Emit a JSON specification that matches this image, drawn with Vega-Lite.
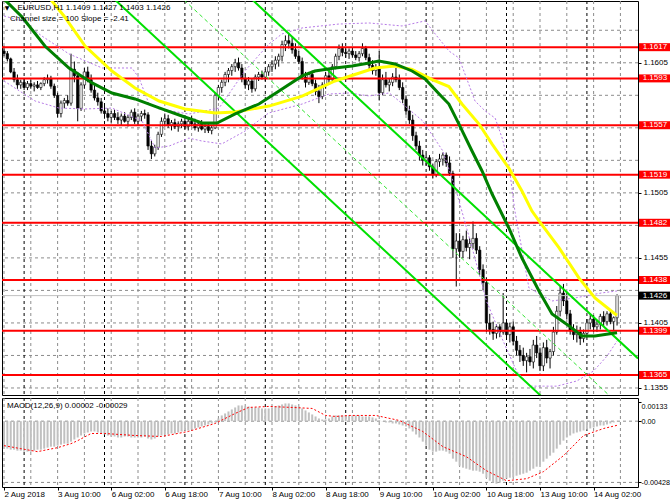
{
"$schema": "https://vega.github.io/schema/vega-lite/v6.json",
"padding": 0,
"background": "#ffffff",
"spacing": 1,
"config": {"view": {"stroke": "#000000", "strokeWidth": 1}, "scale": {"continuousPadding": 0}, "axis": {"labelFont": "Liberation Sans", "labelFontSize": 8, "labelColor": "#000000", "tickColor": "#000000"}, "text": {"font": "Liberation Sans", "fontSize": 8}},
"datasets": {
"candles": [
{"i":0,"o":1.1614,"h":1.1618,"l":1.1610,"c":1.1612,"m":-0.00192},
{"i":1,"o":1.1612,"h":1.1614,"l":1.1606,"c":1.1608,"m":-0.00192},
{"i":2,"o":1.1608,"h":1.1609,"l":1.1597,"c":1.1598,"m":-0.00199},
{"i":3,"o":1.1598,"h":1.1601,"l":1.1590,"c":1.1592,"m":-0.00199},
{"i":4,"o":1.1592,"h":1.1596,"l":1.1585,"c":1.1588,"m":-0.00206},
{"i":5,"o":1.1588,"h":1.1592,"l":1.1585,"c":1.1590,"m":-0.00206},
{"i":6,"o":1.1590,"h":1.1593,"l":1.1584,"c":1.1586,"m":-0.00213},
{"i":7,"o":1.1586,"h":1.1591,"l":1.1584,"c":1.1589,"m":-0.00213},
{"i":8,"o":1.1589,"h":1.1592,"l":1.1585,"c":1.1587,"m":-0.00213},
{"i":9,"o":1.1587,"h":1.1590,"l":1.1583,"c":1.1588,"m":-0.00206},
{"i":10,"o":1.1588,"h":1.1591,"l":1.1585,"c":1.1586,"m":-0.00199},
{"i":11,"o":1.1586,"h":1.1590,"l":1.1584,"c":1.1589,"m":-0.00199},
{"i":12,"o":1.1589,"h":1.1594,"l":1.1587,"c":1.1592,"m":-0.00192},
{"i":13,"o":1.1592,"h":1.1596,"l":1.1589,"c":1.1593,"m":-0.00185},
{"i":14,"o":1.1593,"h":1.1595,"l":1.1585,"c":1.1587,"m":-0.00178},
{"i":15,"o":1.1587,"h":1.1589,"l":1.1578,"c":1.1580,"m":-0.00178},
{"i":16,"o":1.1580,"h":1.1582,"l":1.1563,"c":1.1566,"m":-0.00171},
{"i":17,"o":1.1566,"h":1.1576,"l":1.1563,"c":1.1574,"m":-0.00164},
{"i":18,"o":1.1574,"h":1.1578,"l":1.1570,"c":1.1576,"m":-0.00157},
{"i":19,"o":1.1576,"h":1.1580,"l":1.1572,"c":1.1574,"m":-0.00157},
{"i":20,"o":1.1574,"h":1.1612,"l":1.1572,"c":1.1600,"m":-0.00143},
{"i":21,"o":1.1600,"h":1.1606,"l":1.1590,"c":1.1595,"m":-0.00128},
{"i":22,"o":1.1595,"h":1.1598,"l":1.1560,"c":1.1570,"m":-0.00114},
{"i":23,"o":1.1570,"h":1.1590,"l":1.1568,"c":1.1588,"m":-0.00100},
{"i":24,"o":1.1588,"h":1.1601,"l":1.1585,"c":1.1598,"m":-0.00086},
{"i":25,"o":1.1598,"h":1.1602,"l":1.1590,"c":1.1592,"m":-0.00079},
{"i":26,"o":1.1592,"h":1.1596,"l":1.1582,"c":1.1584,"m":-0.00072},
{"i":27,"o":1.1584,"h":1.1588,"l":1.1576,"c":1.1578,"m":-0.00072},
{"i":28,"o":1.1578,"h":1.1582,"l":1.1572,"c":1.1575,"m":-0.00079},
{"i":29,"o":1.1575,"h":1.1578,"l":1.1566,"c":1.1568,"m":-0.00086},
{"i":30,"o":1.1568,"h":1.1572,"l":1.1562,"c":1.1566,"m":-0.00093},
{"i":31,"o":1.1566,"h":1.1570,"l":1.1560,"c":1.1563,"m":-0.00100},
{"i":32,"o":1.1563,"h":1.1568,"l":1.1559,"c":1.1566,"m":-0.00107},
{"i":33,"o":1.1566,"h":1.1569,"l":1.1561,"c":1.1563,"m":-0.00107},
{"i":34,"o":1.1563,"h":1.1567,"l":1.1558,"c":1.1561,"m":-0.00114},
{"i":35,"o":1.1561,"h":1.1566,"l":1.1557,"c":1.1564,"m":-0.00114},
{"i":36,"o":1.1564,"h":1.1567,"l":1.1559,"c":1.1560,"m":-0.00107},
{"i":37,"o":1.1560,"h":1.1565,"l":1.1556,"c":1.1563,"m":-0.00107},
{"i":38,"o":1.1563,"h":1.1569,"l":1.1561,"c":1.1567,"m":-0.00114},
{"i":39,"o":1.1567,"h":1.1570,"l":1.1558,"c":1.1560,"m":-0.00114},
{"i":40,"o":1.1560,"h":1.1566,"l":1.1557,"c":1.1564,"m":-0.00114},
{"i":41,"o":1.1564,"h":1.1568,"l":1.1560,"c":1.1566,"m":-0.00114},
{"i":42,"o":1.1566,"h":1.1569,"l":1.1562,"c":1.1565,"m":-0.00107},
{"i":43,"o":1.1565,"h":1.1567,"l":1.1538,"c":1.1541,"m":-0.00121},
{"i":44,"o":1.1541,"h":1.1545,"l":1.1531,"c":1.1535,"m":-0.00128},
{"i":45,"o":1.1535,"h":1.1542,"l":1.1533,"c":1.1540,"m":-0.00121},
{"i":46,"o":1.1540,"h":1.1552,"l":1.1538,"c":1.1550,"m":-0.00107},
{"i":47,"o":1.1550,"h":1.1563,"l":1.1548,"c":1.1560,"m":-0.00100},
{"i":48,"o":1.1560,"h":1.1566,"l":1.1556,"c":1.1562,"m":-0.00093},
{"i":49,"o":1.1562,"h":1.1565,"l":1.1555,"c":1.1557,"m":-0.00093},
{"i":50,"o":1.1557,"h":1.1561,"l":1.1553,"c":1.1559,"m":-0.00086},
{"i":51,"o":1.1559,"h":1.1562,"l":1.1554,"c":1.1556,"m":-0.00086},
{"i":52,"o":1.1556,"h":1.1560,"l":1.1552,"c":1.1558,"m":-0.00079},
{"i":53,"o":1.1558,"h":1.1562,"l":1.1555,"c":1.1560,"m":-0.00072},
{"i":54,"o":1.1560,"h":1.1563,"l":1.1554,"c":1.1556,"m":-0.00065},
{"i":55,"o":1.1556,"h":1.1562,"l":1.1553,"c":1.1560,"m":-0.00065},
{"i":56,"o":1.1560,"h":1.1564,"l":1.1556,"c":1.1558,"m":-0.00058},
{"i":57,"o":1.1558,"h":1.1562,"l":1.1553,"c":1.1555,"m":-0.00051},
{"i":58,"o":1.1555,"h":1.1560,"l":1.1552,"c":1.1558,"m":-0.00044},
{"i":59,"o":1.1558,"h":1.1561,"l":1.1553,"c":1.1554,"m":-0.00037},
{"i":60,"o":1.1554,"h":1.1558,"l":1.1551,"c":1.1556,"m":-0.00030},
{"i":61,"o":1.1556,"h":1.1559,"l":1.1551,"c":1.1553,"m":-0.00023},
{"i":62,"o":1.1553,"h":1.1557,"l":1.1550,"c":1.1555,"m":-0.00016},
{"i":63,"o":1.1555,"h":1.1582,"l":1.1554,"c":1.1580,"m":-0.00009},
{"i":64,"o":1.1580,"h":1.1588,"l":1.1576,"c":1.1586,"m":0.00019},
{"i":65,"o":1.1586,"h":1.1592,"l":1.1582,"c":1.1590,"m":0.00040},
{"i":66,"o":1.1590,"h":1.1598,"l":1.1587,"c":1.1596,"m":0.00054},
{"i":67,"o":1.1596,"h":1.1601,"l":1.1590,"c":1.1599,"m":0.00068},
{"i":68,"o":1.1599,"h":1.1604,"l":1.1595,"c":1.1602,"m":0.00082},
{"i":69,"o":1.1602,"h":1.1608,"l":1.1598,"c":1.1605,"m":0.00096},
{"i":70,"o":1.1605,"h":1.1609,"l":1.1599,"c":1.1601,"m":0.00110},
{"i":71,"o":1.1601,"h":1.1604,"l":1.1590,"c":1.1593,"m":0.00110},
{"i":72,"o":1.1593,"h":1.1597,"l":1.1585,"c":1.1588,"m":0.00103},
{"i":73,"o":1.1588,"h":1.1594,"l":1.1584,"c":1.1591,"m":0.00103},
{"i":74,"o":1.1591,"h":1.1593,"l":1.1582,"c":1.1585,"m":0.00096},
{"i":75,"o":1.1585,"h":1.1596,"l":1.1583,"c":1.1594,"m":0.00096},
{"i":76,"o":1.1594,"h":1.1598,"l":1.1591,"c":1.1596,"m":0.00096},
{"i":77,"o":1.1596,"h":1.1599,"l":1.1592,"c":1.1594,"m":0.00089},
{"i":78,"o":1.1594,"h":1.1600,"l":1.1591,"c":1.1598,"m":0.00089},
{"i":79,"o":1.1598,"h":1.1604,"l":1.1595,"c":1.1602,"m":0.00089},
{"i":80,"o":1.1602,"h":1.1607,"l":1.1598,"c":1.1604,"m":0.00096},
{"i":81,"o":1.1604,"h":1.1610,"l":1.1600,"c":1.1607,"m":0.00103},
{"i":82,"o":1.1607,"h":1.1612,"l":1.1602,"c":1.1610,"m":0.00110},
{"i":83,"o":1.1610,"h":1.1622,"l":1.1606,"c":1.1619,"m":0.00117},
{"i":84,"o":1.1619,"h":1.1626,"l":1.1614,"c":1.1622,"m":0.00124},
{"i":85,"o":1.1622,"h":1.1628,"l":1.1616,"c":1.1620,"m":0.00124},
{"i":86,"o":1.1620,"h":1.1625,"l":1.1612,"c":1.1615,"m":0.00117},
{"i":87,"o":1.1615,"h":1.1620,"l":1.1608,"c":1.1610,"m":0.00110},
{"i":88,"o":1.1610,"h":1.1614,"l":1.1604,"c":1.1606,"m":0.00103},
{"i":89,"o":1.1606,"h":1.1609,"l":1.1592,"c":1.1594,"m":0.00089},
{"i":90,"o":1.1594,"h":1.1598,"l":1.1586,"c":1.1590,"m":0.00075},
{"i":91,"o":1.1590,"h":1.1598,"l":1.1588,"c":1.1596,"m":0.00061},
{"i":92,"o":1.1596,"h":1.1599,"l":1.1587,"c":1.1589,"m":0.00047},
{"i":93,"o":1.1589,"h":1.1592,"l":1.1580,"c":1.1583,"m":0.00033},
{"i":94,"o":1.1583,"h":1.1588,"l":1.1574,"c":1.1579,"m":0.00019},
{"i":95,"o":1.1579,"h":1.1590,"l":1.1577,"c":1.1588,"m":0.00012},
{"i":96,"o":1.1588,"h":1.1598,"l":1.1585,"c":1.1595,"m":0.00012},
{"i":97,"o":1.1595,"h":1.1600,"l":1.1588,"c":1.1592,"m":0.00019},
{"i":98,"o":1.1592,"h":1.1604,"l":1.1590,"c":1.1602,"m":0.00033},
{"i":99,"o":1.1602,"h":1.1612,"l":1.1600,"c":1.1610,"m":0.00040},
{"i":100,"o":1.1610,"h":1.1619,"l":1.1607,"c":1.1616,"m":0.00040},
{"i":101,"o":1.1616,"h":1.1620,"l":1.1610,"c":1.1613,"m":0.00040},
{"i":102,"o":1.1613,"h":1.1617,"l":1.1609,"c":1.1612,"m":0.00040},
{"i":103,"o":1.1612,"h":1.1616,"l":1.1608,"c":1.1614,"m":0.00040},
{"i":104,"o":1.1614,"h":1.1617,"l":1.1609,"c":1.1611,"m":0.00040},
{"i":105,"o":1.1611,"h":1.1614,"l":1.1607,"c":1.1609,"m":0.00040},
{"i":106,"o":1.1609,"h":1.1614,"l":1.1606,"c":1.1612,"m":0.00040},
{"i":107,"o":1.1612,"h":1.1620,"l":1.1610,"c":1.1616,"m":0.00033},
{"i":108,"o":1.1616,"h":1.1618,"l":1.1607,"c":1.1609,"m":0.00033},
{"i":109,"o":1.1609,"h":1.1612,"l":1.1600,"c":1.1603,"m":0.00033},
{"i":110,"o":1.1603,"h":1.1607,"l":1.1596,"c":1.1599,"m":0.00026},
{"i":111,"o":1.1599,"h":1.1604,"l":1.1595,"c":1.1601,"m":0.00019},
{"i":112,"o":1.1601,"h":1.1614,"l":1.1576,"c":1.1582,"m":0.00005},
{"i":113,"o":1.1582,"h":1.1596,"l":1.1580,"c":1.1592,"m":-0.00002},
{"i":114,"o":1.1592,"h":1.1598,"l":1.1586,"c":1.1588,"m":-0.00009},
{"i":115,"o":1.1588,"h":1.1593,"l":1.1583,"c":1.1590,"m":-0.00009},
{"i":116,"o":1.1590,"h":1.1597,"l":1.1587,"c":1.1594,"m":-0.00016},
{"i":117,"o":1.1594,"h":1.1601,"l":1.1590,"c":1.1592,"m":-0.00016},
{"i":118,"o":1.1592,"h":1.1596,"l":1.1584,"c":1.1586,"m":-0.00023},
{"i":119,"o":1.1586,"h":1.1590,"l":1.1574,"c":1.1577,"m":-0.00030},
{"i":120,"o":1.1577,"h":1.1580,"l":1.1565,"c":1.1568,"m":-0.00037},
{"i":121,"o":1.1568,"h":1.1572,"l":1.1558,"c":1.1561,"m":-0.00051},
{"i":122,"o":1.1561,"h":1.1565,"l":1.1545,"c":1.1549,"m":-0.00072},
{"i":123,"o":1.1549,"h":1.1552,"l":1.1538,"c":1.1541,"m":-0.00093},
{"i":124,"o":1.1541,"h":1.1545,"l":1.1530,"c":1.1534,"m":-0.00114},
{"i":125,"o":1.1534,"h":1.1538,"l":1.1526,"c":1.1530,"m":-0.00143},
{"i":126,"o":1.1530,"h":1.1535,"l":1.1526,"c":1.1532,"m":-0.00171},
{"i":127,"o":1.1532,"h":1.1534,"l":1.1522,"c":1.1525,"m":-0.00199},
{"i":128,"o":1.1525,"h":1.1527,"l":1.1516,"c":1.1519,"m":-0.00213},
{"i":129,"o":1.1519,"h":1.1531,"l":1.1517,"c":1.1529,"m":-0.00213},
{"i":130,"o":1.1529,"h":1.1535,"l":1.1525,"c":1.1531,"m":-0.00206},
{"i":131,"o":1.1531,"h":1.1536,"l":1.1526,"c":1.1534,"m":-0.00206},
{"i":132,"o":1.1534,"h":1.1536,"l":1.1525,"c":1.1528,"m":-0.00213},
{"i":133,"o":1.1528,"h":1.1533,"l":1.1518,"c":1.1520,"m":-0.00227},
{"i":134,"o":1.1520,"h":1.1522,"l":1.1455,"c":1.1462,"m":-0.00262},
{"i":135,"o":1.1462,"h":1.1474,"l":1.1433,"c":1.1468,"m":-0.00283},
{"i":136,"o":1.1468,"h":1.1474,"l":1.1455,"c":1.1460,"m":-0.00311},
{"i":137,"o":1.1460,"h":1.1472,"l":1.1455,"c":1.1469,"m":-0.00325},
{"i":138,"o":1.1469,"h":1.1476,"l":1.1460,"c":1.1463,"m":-0.00332},
{"i":139,"o":1.1463,"h":1.1470,"l":1.1454,"c":1.1466,"m":-0.00339},
{"i":140,"o":1.1466,"h":1.1483,"l":1.1462,"c":1.1470,"m":-0.00346},
{"i":141,"o":1.1470,"h":1.1474,"l":1.1458,"c":1.1461,"m":-0.00346},
{"i":142,"o":1.1461,"h":1.1464,"l":1.1442,"c":1.1446,"m":-0.00353},
{"i":143,"o":1.1446,"h":1.1450,"l":1.1430,"c":1.1436,"m":-0.00367},
{"i":144,"o":1.1436,"h":1.1440,"l":1.1398,"c":1.1405,"m":-0.00395},
{"i":145,"o":1.1405,"h":1.1412,"l":1.1396,"c":1.1400,"m":-0.00416},
{"i":146,"o":1.1400,"h":1.1406,"l":1.1392,"c":1.1397,"m":-0.00430},
{"i":147,"o":1.1397,"h":1.1404,"l":1.1393,"c":1.1402,"m":-0.00437},
{"i":148,"o":1.1402,"h":1.1404,"l":1.1394,"c":1.1398,"m":-0.00430},
{"i":149,"o":1.1398,"h":1.1428,"l":1.1396,"c":1.1405,"m":-0.00416},
{"i":150,"o":1.1405,"h":1.1408,"l":1.1392,"c":1.1396,"m":-0.00402},
{"i":151,"o":1.1396,"h":1.1405,"l":1.1390,"c":1.1402,"m":-0.00395},
{"i":152,"o":1.1402,"h":1.1406,"l":1.1388,"c":1.1391,"m":-0.00388},
{"i":153,"o":1.1391,"h":1.1395,"l":1.1380,"c":1.1384,"m":-0.00381},
{"i":154,"o":1.1384,"h":1.1388,"l":1.1375,"c":1.1380,"m":-0.00374},
{"i":155,"o":1.1380,"h":1.1386,"l":1.1372,"c":1.1376,"m":-0.00367},
{"i":156,"o":1.1376,"h":1.1382,"l":1.1367,"c":1.1379,"m":-0.00360},
{"i":157,"o":1.1379,"h":1.1385,"l":1.1372,"c":1.1375,"m":-0.00346},
{"i":158,"o":1.1375,"h":1.1392,"l":1.1370,"c":1.1388,"m":-0.00332},
{"i":159,"o":1.1388,"h":1.1395,"l":1.1378,"c":1.1382,"m":-0.00318},
{"i":160,"o":1.1382,"h":1.1386,"l":1.1368,"c":1.1372,"m":-0.00304},
{"i":161,"o":1.1372,"h":1.1390,"l":1.1368,"c":1.1386,"m":-0.00283},
{"i":162,"o":1.1386,"h":1.1392,"l":1.1374,"c":1.1378,"m":-0.00262},
{"i":163,"o":1.1378,"h":1.1385,"l":1.1370,"c":1.1383,"m":-0.00241},
{"i":164,"o":1.1383,"h":1.1402,"l":1.1380,"c":1.1398,"m":-0.00220},
{"i":165,"o":1.1398,"h":1.1418,"l":1.1396,"c":1.1414,"m":-0.00192},
{"i":166,"o":1.1414,"h":1.1433,"l":1.1410,"c":1.1428,"m":-0.00164},
{"i":167,"o":1.1428,"h":1.1435,"l":1.1418,"c":1.1422,"m":-0.00136},
{"i":168,"o":1.1422,"h":1.1428,"l":1.1408,"c":1.1412,"m":-0.00114},
{"i":169,"o":1.1412,"h":1.1415,"l":1.1396,"c":1.1399,"m":-0.00100},
{"i":170,"o":1.1399,"h":1.1404,"l":1.1392,"c":1.1396,"m":-0.00086},
{"i":171,"o":1.1396,"h":1.1403,"l":1.1390,"c":1.1398,"m":-0.00079},
{"i":172,"o":1.1398,"h":1.1402,"l":1.1388,"c":1.1393,"m":-0.00072},
{"i":173,"o":1.1393,"h":1.1400,"l":1.1390,"c":1.1397,"m":-0.00065},
{"i":174,"o":1.1397,"h":1.1408,"l":1.1394,"c":1.1405,"m":-0.00058},
{"i":175,"o":1.1405,"h":1.1412,"l":1.1400,"c":1.1408,"m":-0.00051},
{"i":176,"o":1.1408,"h":1.1411,"l":1.1398,"c":1.1402,"m":-0.00044},
{"i":177,"o":1.1402,"h":1.1407,"l":1.1398,"c":1.1404,"m":-0.00037},
{"i":178,"o":1.1404,"h":1.1412,"l":1.1400,"c":1.1410,"m":-0.00030},
{"i":179,"o":1.1410,"h":1.1414,"l":1.1402,"c":1.1406,"m":-0.00030},
{"i":180,"o":1.1406,"h":1.1414,"l":1.1403,"c":1.1412,"m":-0.00023},
{"i":181,"o":1.1412,"h":1.1415,"l":1.1404,"c":1.1406,"m":-0.00016},
{"i":182,"o":1.1406,"h":1.1410,"l":1.1399,"c":1.1409,"m":-0.00009},
{"i":183,"o":1.1409,"h":1.1427,"l":1.1403,"c":1.1426,"m":0.00002}
],
"seps": [{"i":6},{"i":30},{"i":54},{"i":78},{"i":102},{"i":126},{"i":150},{"i":174}],
"vgrid": [{"g":0},{"g":8},{"g":16},{"g":24},{"g":32},{"g":40},{"g":48},{"g":56},{"g":64},{"g":72},{"g":80},{"g":88},{"g":96},{"g":104},{"g":112},{"g":120},{"g":128},{"g":136},{"g":144},{"g":152},{"g":160},{"g":168},{"g":176},{"g":184}],
"hgrid": [{"q":1.1355},{"q":1.138},{"q":1.1405},{"q":1.143},{"q":1.1455},{"q":1.148},{"q":1.1505},{"q":1.153},{"q":1.1555},{"q":1.158},{"q":1.1605},{"q":1.163}],
"mgrid": [{"q":0},{"q":-0.00428}],
"levels": [{"p":1.1617},{"p":1.1593},{"p":1.1557},{"p":1.1519},{"p":1.1482},{"p":1.1438},{"p":1.1399},{"p":1.1365}],
"cur": [{"p":1.1426}],
"yel": [{"i":0,"p":1.1691},{"i":8.4,"p":1.1672},{"i":14.3,"p":1.16525},{"i":17.9,"p":1.1641},{"i":24.2,"p":1.16179},{"i":32.2,"p":1.15987},{"i":39.1,"p":1.15856},{"i":46.3,"p":1.15756},{"i":54,"p":1.15695},{"i":63,"p":1.15664},{"i":69,"p":1.15672},{"i":79.1,"p":1.15717},{"i":89,"p":1.15794},{"i":98.8,"p":1.1591},{"i":110.7,"p":1.1601},{"i":116.7,"p":1.16025},{"i":121.8,"p":1.15998},{"i":127.8,"p":1.15921},{"i":132.8,"p":1.15867},{"i":136.7,"p":1.15733},{"i":141.8,"p":1.15579},{"i":145.7,"p":1.15425},{"i":150.7,"p":1.1524},{"i":154.6,"p":1.15064},{"i":157.6,"p":1.1491},{"i":159.7,"p":1.14834},{"i":165.7,"p":1.14627},{"i":171.6,"p":1.14396},{"i":176.4,"p":1.14242},{"i":182.4,"p":1.14119},{"i":183,"p":1.1411}],
"grn": [{"i":0,"p":1.1654},{"i":5.4,"p":1.16402},{"i":12.2,"p":1.16179},{"i":19.4,"p":1.1601},{"i":26.3,"p":1.15895},{"i":32.2,"p":1.15818},{"i":39.1,"p":1.15772},{"i":46.3,"p":1.15703},{"i":53.1,"p":1.15641},{"i":59.1,"p":1.15587},{"i":63.6,"p":1.15587},{"i":69,"p":1.15657},{"i":76.1,"p":1.15733},{"i":82.1,"p":1.15833},{"i":89,"p":1.15949},{"i":92.8,"p":1.15987},{"i":98.8,"p":1.1601},{"i":103.9,"p":1.16026},{"i":109,"p":1.16049},{"i":111.9,"p":1.16064},{"i":116.7,"p":1.16041},{"i":121.8,"p":1.15987},{"i":125.7,"p":1.15926},{"i":129.9,"p":1.1581},{"i":132.8,"p":1.15733},{"i":135.8,"p":1.15579},{"i":139.7,"p":1.15372},{"i":142.7,"p":1.15218},{"i":145.7,"p":1.15041},{"i":150.7,"p":1.1478},{"i":154.6,"p":1.14549},{"i":159.7,"p":1.14296},{"i":163.6,"p":1.14119},{"i":168.7,"p":1.14027},{"i":172.5,"p":1.1395},{"i":176.4,"p":1.1395},{"i":182.4,"p":1.13973},{"i":183,"p":1.13975}],
"bb": [
{"b":"u","i":0,"p":1.1641},{"b":"u","i":5.4,"p":1.16372},{"b":"u","i":11.3,"p":1.16256},{"b":"u","i":19.4,"p":1.16118},{"b":"u","i":29.3,"p":1.1601},{"b":"u","i":38.2,"p":1.1601},{"b":"u","i":40.3,"p":1.15933},{"b":"u","i":43.3,"p":1.15733},{"b":"u","i":46.3,"p":1.15695},{"b":"u","i":55.2,"p":1.15656},{"b":"u","i":64.2,"p":1.15702},{"b":"u","i":71.9,"p":1.15987},{"b":"u","i":79.1,"p":1.16195},{"b":"u","i":83,"p":1.16272},{"b":"u","i":89,"p":1.16318},{"b":"u","i":100,"p":1.16348},{"b":"u","i":109,"p":1.16356},{"b":"u","i":118.8,"p":1.16333},{"b":"u","i":125.7,"p":1.16372},{"b":"u","i":128.7,"p":1.16272},{"b":"u","i":132.8,"p":1.16141},{"b":"u","i":135.8,"p":1.16087},{"b":"u","i":137.6,"p":1.15964},{"b":"u","i":140.6,"p":1.15756},{"b":"u","i":143.6,"p":1.1568},{"b":"u","i":146.6,"p":1.15625},{"b":"u","i":148.7,"p":1.15471},{"b":"u","i":150.7,"p":1.15272},{"b":"u","i":152.5,"p":1.1491},{"b":"u","i":156.7,"p":1.14319},{"b":"u","i":163.6,"p":1.14219},{"b":"u","i":170.4,"p":1.14242},{"b":"u","i":178.5,"p":1.14281},{"b":"u","i":183,"p":1.14296},
{"b":"l","i":0,"p":1.1591},{"b":"l","i":9.3,"p":1.15756},{"b":"l","i":16.4,"p":1.15702},{"b":"l","i":24.2,"p":1.15695},{"b":"l","i":32.2,"p":1.15702},{"b":"l","i":41.2,"p":1.15603},{"b":"l","i":45.1,"p":1.15395},{"b":"l","i":49.3,"p":1.1541},{"b":"l","i":55.2,"p":1.15471},{"b":"l","i":59,"p":1.15449},{"b":"l","i":65,"p":1.15426},{"b":"l","i":72,"p":1.15526},{"b":"l","i":79,"p":1.15664},{"b":"l","i":89,"p":1.15733},{"b":"l","i":97,"p":1.1581},{"b":"l","i":103,"p":1.15818},{"b":"l","i":109,"p":1.15795},{"b":"l","i":115,"p":1.15818},{"b":"l","i":119,"p":1.15733},{"b":"l","i":125,"p":1.15603},{"b":"l","i":131,"p":1.15372},{"b":"l","i":135,"p":1.15064},{"b":"l","i":140,"p":1.14603},{"b":"l","i":144,"p":1.14219},{"b":"l","i":149,"p":1.13911},{"b":"l","i":153,"p":1.1368},{"b":"l","i":157,"p":1.13564},{"b":"l","i":161,"p":1.13564},{"b":"l","i":165,"p":1.13564},{"b":"l","i":171,"p":1.13604},{"b":"l","i":176,"p":1.13681},{"b":"l","i":180,"p":1.13795},{"b":"l","i":183,"p":1.13911}
],
"ch": [{"line":"upper","i":60,"p":1.16873},{"line":"upper","i":189.25,"p":1.13777},{"line":"mid","i":40,"p":1.16862},{"line":"mid","i":189.25,"p":1.13287},{"line":"lower","i":20,"p":1.16849},{"line":"lower","i":189.25,"p":1.12795}],
"sig": [{"i":0,"s":-0.00171},{"i":5,"s":-0.00192},{"i":10,"s":-0.00213},{"i":16,"s":-0.00185},{"i":20,"s":-0.00157},{"i":22,"s":-0.00136},{"i":26,"s":-0.00086},{"i":30,"s":-0.00086},{"i":39,"s":-0.001},{"i":47,"s":-0.00107},{"i":55,"s":-0.00072},{"i":63,"s":-0.00016},{"i":69,"s":0.00054},{"i":73,"s":0.00096},{"i":79,"s":0.00103},{"i":86,"s":0.00096},{"i":92,"s":0.00089},{"i":96,"s":0.0004},{"i":99,"s":0.00033},{"i":103,"s":0.0004},{"i":111,"s":0.0004},{"i":118,"s":0.00005},{"i":125,"s":-0.00072},{"i":131,"s":-0.00178},{"i":138,"s":-0.00248},{"i":144,"s":-0.00346},{"i":150,"s":-0.00416},{"i":156,"s":-0.00402},{"i":161,"s":-0.00353},{"i":167,"s":-0.00241},{"i":173,"s":-0.001},{"i":179,"s":-0.00051},{"i":183,"s":-0.00029}]
},
"vconcat": [
{
"width": 636, "height": 394,
"layer": [
{"data": {"name": "candles"}, "mark": {"type": "rule", "color": "#000000", "strokeWidth": 1, "opacity": 0},
 "encoding": {"x": {"field": "i", "type": "quantitative", "scale": {"domain": [-0.6, 189.25], "nice": false, "zero": false, "padding": 0},
   "axis": {"title": null, "labels": false, "ticks": false, "domain": false, "grid": false}},
   "y": {"field": "l", "type": "quantitative", "scale": {"domain": [1.13496, 1.16525], "nice": false, "zero": false, "padding": 0},
     "axis": {"title": null, "orient": "right", "values": [1.1355,1.138,1.1405,1.143,1.1455,1.148,1.1505,1.153,1.1555,1.158,1.1605,1.163],
       "labelExpr": "(datum.value == 1.1555 || datum.value == 1.148 || datum.value == 1.143) ? '' : format(datum.value, '.4f')",
       "labelOverlap": false, "labelBound": false, "labelFlush": false,
       "grid": false, "domain": false, "ticks": true, "tickSize": 3, "labelPadding": 2, "labels": true}},
   "y2": {"field": "h"}}},
{"data": {"name": "vgrid"}, "mark": {"type": "rule", "color": "#8c8c8c", "strokeDash": [3, 3], "strokeWidth": 1},
 "encoding": {"x": {"field": "g", "type": "quantitative"}}},
{"data": {"name": "hgrid"}, "mark": {"type": "rule", "color": "#8c8c8c", "strokeDash": [3, 3], "strokeWidth": 1},
 "encoding": {"y": {"field": "q", "type": "quantitative"}}},
{"data": {"name": "seps"}, "mark": {"type": "rule", "color": "#000000", "strokeDash": [3, 3], "strokeWidth": 1},
 "encoding": {"x": {"field": "i", "type": "quantitative"}}},
{"data": {"name": "candles"}, "mark": {"type": "rule", "color": "#000000", "strokeWidth": 1},
 "encoding": {"x": {"field": "i", "type": "quantitative"}, "y": {"field": "l", "type": "quantitative"}, "y2": {"field": "h"}}},
{"data": {"name": "candles"}, "mark": {"type": "bar", "size": 2.4, "stroke": "#000000", "strokeWidth": 0.6},
 "encoding": {"x": {"field": "i", "type": "quantitative"}, "y": {"field": "o", "type": "quantitative"}, "y2": {"field": "c"},
   "fill": {"condition": {"test": "datum.c >= datum.o", "value": "#ffffff"}, "value": "#000000"}}},
{"data": {"name": "cur"}, "mark": {"type": "rule", "color": "#c0c0c0", "strokeWidth": 1}, "encoding": {"y": {"field": "p", "type": "quantitative"}}},
{"data": {"name": "levels"}, "mark": {"type": "rule", "color": "#ff0000", "strokeWidth": 2}, "encoding": {"y": {"field": "p", "type": "quantitative"}}},
{"data": {"name": "bb"}, "mark": {"type": "line", "color": "#b67ae6", "strokeWidth": 1, "strokeDash": [2, 2], "clip": true},
 "encoding": {"x": {"field": "i", "type": "quantitative"}, "y": {"field": "p", "type": "quantitative"}, "detail": {"field": "b"}}},
{"data": {"name": "ch"}, "transform": [{"filter": "datum.line != 'mid'"}], "mark": {"type": "line", "color": "#00e000", "strokeWidth": 2, "clip": true},
 "encoding": {"x": {"field": "i", "type": "quantitative"}, "y": {"field": "p", "type": "quantitative"}, "detail": {"field": "line"}}},
{"data": {"name": "ch"}, "transform": [{"filter": "datum.line == 'mid'"}], "mark": {"type": "line", "color": "#33e633", "strokeWidth": 1, "strokeDash": [4, 3], "clip": true},
 "encoding": {"x": {"field": "i", "type": "quantitative"}, "y": {"field": "p", "type": "quantitative"}}},
{"data": {"name": "yel"}, "mark": {"type": "line", "color": "#ffff00", "strokeWidth": 3, "clip": true},
 "encoding": {"x": {"field": "i", "type": "quantitative"}, "y": {"field": "p", "type": "quantitative"}}},
{"data": {"name": "grn"}, "mark": {"type": "line", "color": "#008000", "strokeWidth": 3, "clip": true},
 "encoding": {"x": {"field": "i", "type": "quantitative"}, "y": {"field": "p", "type": "quantitative"}}},
{"data": {"name": "levels"}, "mark": {"type": "bar", "orient": "horizontal", "size": 8, "color": "#ff0000"},
 "encoding": {"x": {"datum": 189.55}, "x2": {"datum": 199.1}, "y": {"field": "p", "type": "quantitative"}}},
{"data": {"name": "levels"}, "mark": {"type": "text", "color": "#ffffff", "align": "center", "baseline": "middle", "fontSize": 8},
 "encoding": {"x": {"datum": 194.3}, "y": {"field": "p", "type": "quantitative"}, "text": {"field": "p", "format": ".4f"}}},
{"data": {"name": "cur"}, "mark": {"type": "bar", "orient": "horizontal", "size": 8, "color": "#000000"},
 "encoding": {"x": {"datum": 189.55}, "x2": {"datum": 199.1}, "y": {"field": "p", "type": "quantitative"}}},
{"data": {"name": "cur"}, "mark": {"type": "text", "color": "#ffffff", "align": "center", "baseline": "middle", "fontSize": 8},
 "encoding": {"x": {"datum": 194.3}, "y": {"field": "p", "type": "quantitative"}, "text": {"field": "p", "format": ".4f"}}},
{"data": {"values": [{"t": "▼"}]}, "mark": {"type": "text", "font": "DejaVu Sans", "fontSize": 6, "align": "center", "baseline": "middle", "color": "#000000"},
 "encoding": {"x": {"datum": 0.9}, "y": {"datum": 1.16471}, "text": {"field": "t"}}},
{"data": {"values": [{"t": "EURUSD,H1  1.1409 1.1427 1.1403 1.1426"}]}, "mark": {"type": "text", "align": "left", "baseline": "middle", "color": "#000000"},
 "encoding": {"x": {"datum": 4.0}, "y": {"datum": 1.16471}, "text": {"field": "t"}}},
{"data": {"values": [{"t": "Channel size = 100 Slope = -2.41"}]}, "mark": {"type": "text", "align": "left", "baseline": "middle", "color": "#000000"},
 "encoding": {"x": {"datum": 1.8}, "y": {"datum": 1.16387}, "text": {"field": "t"}}}
]
},
{
"width": 636, "height": 89,
"layer": [
{"data": {"name": "candles"}, "mark": {"type": "bar", "size": 2, "color": "#c0c0c0", "opacity": 0},
 "encoding": {"x": {"field": "i", "type": "quantitative", "scale": {"domain": [-0.6, 189.25], "nice": false, "zero": false, "padding": 0},
   "axis": {"title": null, "values": [0,16,32,48,64,80,96,112,128,144,160,176], "grid": false, "domain": false, "ticks": true, "labels": true, "tickSize": 3,
     "labelAlign": "left", "labelPadding": 0, "labelOverlap": false, "labelBound": false, "labelFlush": false,
     "labelExpr": "datum.value == 0 ? '2 Aug 2018' : datum.value == 16 ? '3 Aug 10:00' : datum.value == 32 ? '6 Aug 02:00' : datum.value == 48 ? '6 Aug 18:00' : datum.value == 64 ? '7 Aug 10:00' : datum.value == 80 ? '8 Aug 02:00' : datum.value == 96 ? '8 Aug 18:00' : datum.value == 112 ? '9 Aug 10:00' : datum.value == 128 ? '10 Aug 02:00' : datum.value == 144 ? '10 Aug 18:00' : datum.value == 160 ? '13 Aug 10:00' : datum.value == 176 ? '14 Aug 02:00' : ''"}},
   "y": {"field": "m", "type": "quantitative", "scale": {"domain": [-0.0046, 0.00162], "nice": false, "zero": false, "padding": 0},
     "axis": {"title": null, "orient": "right", "values": [0.00133, 0, -0.00428], "grid": false, "domain": false, "ticks": true, "labels": true, "tickSize": 3, "labelPadding": 0, "labelFontSize": 7.2,
       "labelOverlap": false, "labelBound": false, "labelFlush": false,
       "labelBaseline": {"condition": {"test": "datum.value > 0.001", "value": "top"}, "value": "middle"},
       "labelExpr": "datum.value > 0.001 ? '0.00133' : datum.value < -0.004 ? '-0.00428' : '0.00'"}},
   "y2": {"datum": 0}}},
{"data": {"name": "vgrid"}, "mark": {"type": "rule", "color": "#8c8c8c", "strokeDash": [3, 3], "strokeWidth": 1},
 "encoding": {"x": {"field": "g", "type": "quantitative"}}},
{"data": {"name": "mgrid"}, "mark": {"type": "rule", "color": "#8c8c8c", "strokeDash": [3, 3], "strokeWidth": 1},
 "encoding": {"y": {"field": "q", "type": "quantitative"}}},
{"data": {"name": "seps"}, "mark": {"type": "rule", "color": "#000000", "strokeDash": [3, 3], "strokeWidth": 1},
 "encoding": {"x": {"field": "i", "type": "quantitative"}}},
{"data": {"name": "candles"}, "mark": {"type": "bar", "size": 2, "color": "#c0c0c0"},
 "encoding": {"x": {"field": "i", "type": "quantitative"}, "y": {"field": "m", "type": "quantitative"}, "y2": {"datum": 0}}},
{"data": {"name": "sig"}, "mark": {"type": "line", "color": "#ff0000", "strokeWidth": 1, "strokeDash": [2, 2]},
 "encoding": {"x": {"field": "i", "type": "quantitative"}, "y": {"field": "s", "type": "quantitative"}}},
{"data": {"values": [{"t": "MACD(12,26,9) 0.00002 -0.00029"}]}, "mark": {"type": "text", "align": "left", "baseline": "middle", "color": "#000000"},
 "encoding": {"x": {"datum": 0.9}, "y": {"datum": 0.00106}, "text": {"field": "t"}}}
]
}
]
}
